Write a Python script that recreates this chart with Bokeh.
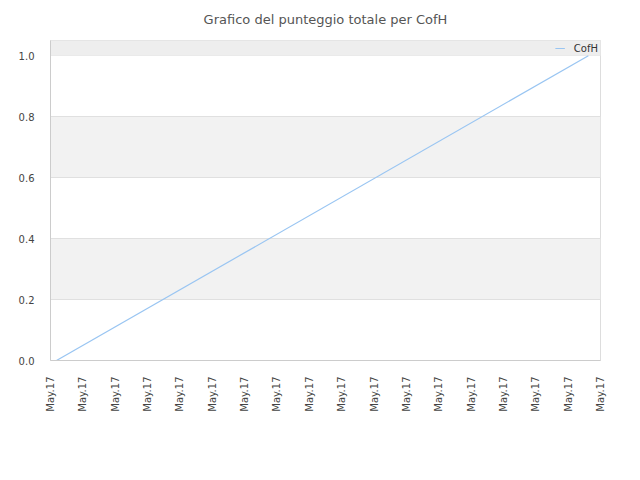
from datetime import datetime, timedelta
from bokeh.plotting import figure
from bokeh.models import (Range1d, FixedTicker, DatetimeTickFormatter, Legend,
                          LegendItem, BoxAnnotation, Title, PrintfTickFormatter)
from bokeh.embed import file_html
from bokeh.resources import INLINE

# ---- data ----
series_name = "CofH"
dates = [datetime(2017, 5, 1, 4, 27), datetime(2017, 5, 17, 15, 0)]
scores = [0.0, 1.0]
tick_dates = [datetime(2017, 5, 1) + timedelta(days=i) for i in range(18)]
y_ticks = [0.0, 0.2, 0.4, 0.6, 0.8, 1.0]
title_text = "Grafico del punteggio totale per CofH"

def ms(d):
    return (d - datetime(1970, 1, 1)).total_seconds() * 1000.0

p = figure(width=632, height=472, output_backend="svg", toolbar_location=None,
           x_axis_type="datetime",
           x_range=Range1d(tick_dates[0], tick_dates[-1]),
           y_range=Range1d(0, 1.05),
           min_border_left=50, min_border_right=32,
           min_border_top=40, min_border_bottom=112)
p.title = None

t = Title(text=title_text, align="center", vertical_align="top",
          text_font="DejaVu Sans",
          text_font_size="13px", text_font_style="normal", text_color="#555555",
          standoff=23)
p.add_layout(t, "above")

p.outline_line_color = "#dddddd"
p.background_fill_color = "white"
p.border_fill_color = "white"

r = p.line(dates, scores, line_color="#99c5f2", line_width=1.2)

# grid
p.xgrid.grid_line_color = None
p.ygrid.ticker = FixedTicker(ticks=y_ticks)
p.ygrid.grid_line_color = "#e0e0e0"
p.ygrid.band_fill_color = "#f2f2f2"
p.ygrid.band_fill_alpha = 1.0
p.add_layout(BoxAnnotation(bottom=1.0, fill_color="#eeeeee", fill_alpha=1.0,
                           line_color=None, level="underlay"))

# axes
p.yaxis.ticker = FixedTicker(ticks=y_ticks)
p.yaxis.formatter = PrintfTickFormatter(format="%.1f")
p.xaxis.ticker = FixedTicker(ticks=[ms(d) for d in tick_dates])
p.xaxis.formatter = DatetimeTickFormatter(days="%b.%y", months="%b.%y",
                                          hours="%b.%y", years="%b.%y")
p.xaxis.major_label_orientation = 1.5708
for ax in (p.xaxis, p.yaxis):
    ax.axis_line_color = "#cccccc"
    ax.major_tick_line_color = None
    ax.minor_tick_line_color = None
    ax.major_label_text_font = "DejaVu Sans"
    ax.major_label_text_font_size = "10px"
    ax.major_label_text_color = "#444444"
p.yaxis.major_label_standoff = 10
p.xaxis.major_label_standoff = 10

legend = Legend(items=[LegendItem(label=series_name, renderers=[r])],
                location="top_right", padding=0, margin=2, spacing=0,
                glyph_width=10, glyph_height=12, label_height=12,
                label_standoff=9, label_text_font="DejaVu Sans",
                label_text_font_size="10px", label_text_color="#333333",
                background_fill_alpha=0, border_line_color=None)
p.add_layout(legend)

open("out.html", "w").write(file_html(p, INLINE))
